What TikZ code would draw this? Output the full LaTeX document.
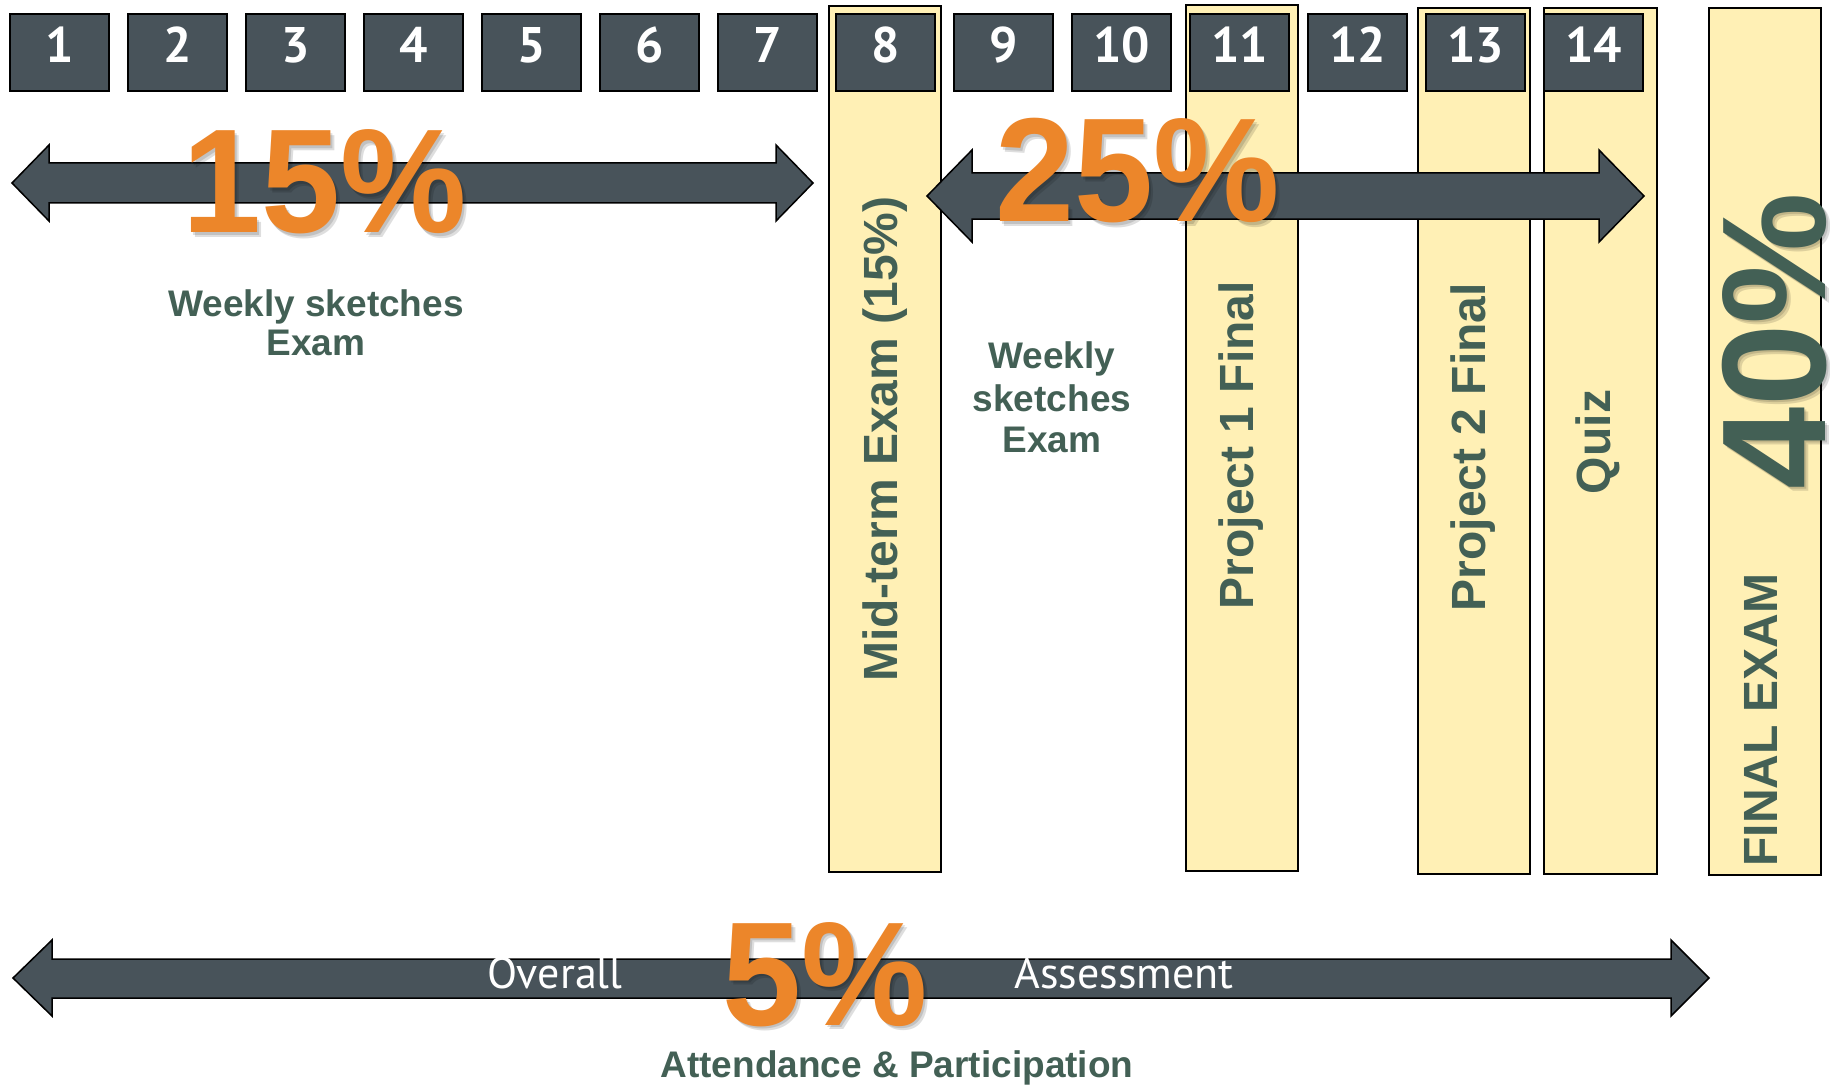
\documentclass[tikz,border=0pt]{standalone}
\usepackage{fontspec}
\setmainfont{Liberation Sans}
\newfontfamily\gillfont{PT Sans}
\definecolor{slate}{RGB}{72,83,90}
\definecolor{colyellow}{RGB}{255,240,181}
\definecolor{pctorange}{RGB}{236,134,42}
\definecolor{labgreen}{RGB}{67,96,85}
\begin{document}
\begin{tikzpicture}[x=1pt,y=-1pt,
  weekbox/.style={draw=black, line width=1.5pt, fill=slate, minimum width=99pt, minimum height=77pt, inner sep=0pt},
  weeknum/.style={text=white, font=\gillfont\bfseries\fontsize{50}{50}\selectfont, anchor=base, inner sep=0pt},
  colbox/.style={draw=black, line width=1.5pt, fill=colyellow},
  bigarrow/.style={draw=black, line width=1.5pt, fill=slate, line join=miter},
  pct/.style={font=\bfseries\fontsize{148}{148}\selectfont, anchor=base, inner sep=0pt},
  hpct/.style={pct, xscale=0.96},
  pctshadow/.style={text=black, opacity=0.13},
  lab/.style={text=labgreen, font=\bfseries\fontsize{37}{37}\selectfont, anchor=base, inner sep=0pt},
  vlab/.style={text=labgreen, font=\bfseries\fontsize{48}{48}\selectfont, anchor=base, inner sep=0pt, rotate=90},
  arrlab/.style={text=white, font=\gillfont\fontsize{44}{44}\selectfont, anchor=base, inner sep=0pt}
]
\useasboundingbox[fill=white] (0,0) rectangle (1830,1086);

% yellow columns
\path[colbox] (829,6) rectangle (941,872);
\path[colbox] (1186,5) rectangle (1298,871);
\path[colbox] (1418,8) rectangle (1530,874);
\path[colbox] (1544,8) rectangle (1657,874);
\path[colbox] (1709,8) rectangle (1821,875);

% week boxes
\foreach \i in {1,...,14} {
  \node[weekbox] (w\i) at ({59.5+(\i-1)*118}, 52.5) {};
  \node[weeknum] (n\i) at ({59.5+(\i-1)*118}, 63) {\i};
}

% arrows
\path[bigarrow] (12,183) -- (49,145) -- (49,163) -- (776,163) -- (776,145) -- (813,183)
  -- (776,221) -- (776,203) -- (49,203) -- (49,221) -- cycle;
\path[bigarrow] (927,196) -- (972,150) -- (972,173) -- (1599,173) -- (1599,150) -- (1644,196)
  -- (1599,242) -- (1599,219) -- (972,219) -- (972,242) -- cycle;
\path[bigarrow] (13,978) -- (52,940) -- (52,959) -- (1671,959) -- (1671,940) -- (1709,978)
  -- (1671,1016) -- (1671,998) -- (52,998) -- (52,1016) -- cycle;

% arrow labels
\node[arrlab] (overall) at (555,988) {Overall};
\node[arrlab] (assess) at (1124,988) {Assessment};

% green labels
\node[lab] (wsa1) at (316,316) {Weekly sketches};
\node[lab] (wsa2) at (316,355) {Exam};
\node[lab] (wsb1) at (1052,368) {Weekly};
\node[lab] (wsb2) at (1052,411) {sketches};
\node[lab] (wsb3) at (1052,452) {Exam};
\node[lab] (attend) at (897,1077) {Attendance \& Participation};

% vertical labels
\node[vlab] (mid) at (897,439) {Mid-term Exam (15\%)};
\node[vlab] (proj1) at (1253,445) {Project 1 Final};
\node[vlab] (proj2) at (1485,447) {Project 2 Final};
\node[vlab] (quiz) at (1610,442) {Quiz};
\node[vlab] (final) at (1777,720) {FINAL EXAM};

% percentages with soft shadows
\foreach \d in {2,4} {
  \node[hpct, pctshadow] at (325+\d,233+\d) {15\%};
  \node[hpct, pctshadow] at (1138+\d,222+\d) {25\%};
  \node[hpct, pctshadow] at (825+\d,1025+\d) {5\%};
  \node[pct, pctshadow, rotate=90] at (1825+\d,341+\d) {40\%};
}
\node[hpct, text=pctorange] (p15) at (325,233) {15\%};
\node[hpct, text=pctorange] (p25) at (1138,222) {25\%};
\node[hpct, text=pctorange] (p5) at (825,1025) {5\%};
\node[pct, text=labgreen, rotate=90] (p40) at (1825,341) {40\%};
\end{tikzpicture}
\end{document}
